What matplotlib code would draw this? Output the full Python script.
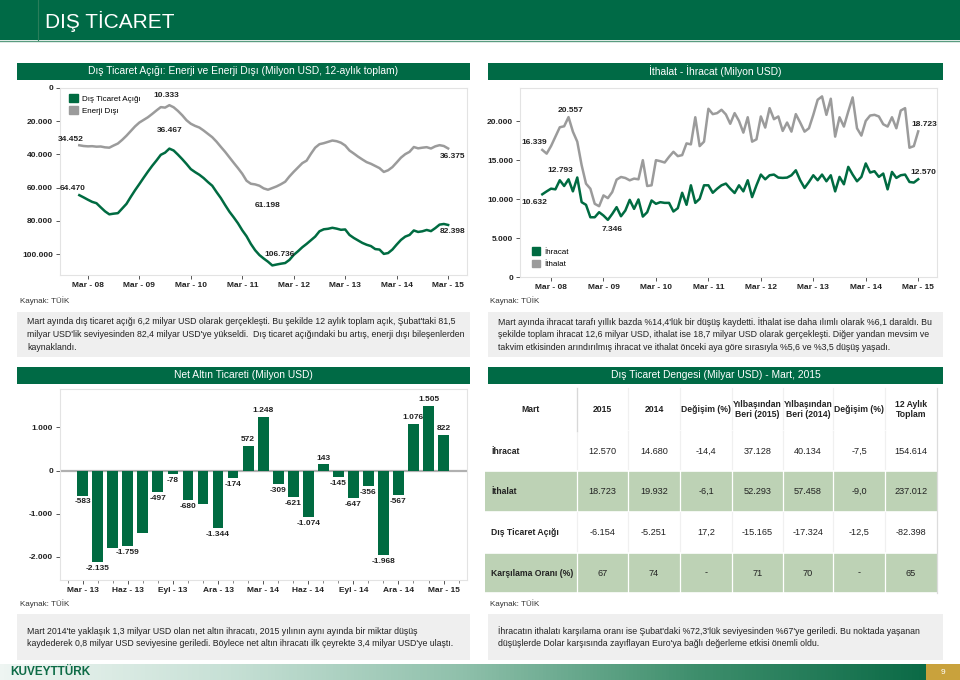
import numpy as np
import matplotlib.pyplot as plt
from matplotlib.patches import Rectangle
from matplotlib.colors import LinearSegmentedColormap
from matplotlib import font_manager

W, H = 960, 680
GREEN = '#006b41'
BAR_GREEN = '#006a45'
LINE_GRAY = '#9b9b9b'
TXT = '#222222'

names = {f.name for f in font_manager.fontManager.ttflist}
NARROW = 'Liberation Sans Narrow' in names
plt.rcParams['font.family'] = ['Liberation Sans', 'DejaVu Sans']

# ---- data ----
year_ticks = ['Mar - 08', 'Mar - 09', 'Mar - 10', 'Mar - 11', 'Mar - 12', 'Mar - 13', 'Mar - 14', 'Mar - 15']

# 12-month total, Jan 08 .. Mar 15 (million USD, deficit shown positive)
acik = [64470, 65800, 67200, 68500, 69300, 71800, 74200, 76000, 75600, 75300,
        72500, 69700, 65500, 61500, 57800, 54000, 50300, 46800, 43600, 40200,
        38900, 36467, 37600, 40100, 42800, 45700, 48800, 50600, 52200, 54200,
        56600, 58800, 62600, 66200, 70400, 74400, 77800, 81400, 85600, 89200,
        93800, 97600, 100500, 102600, 104500, 106736, 106200, 105700, 105300, 103400,
        100400, 98200, 95800, 93800, 91600, 89400, 86200, 85000, 84700, 84100,
        84600, 85300, 85100, 88400, 90200, 91700, 93200, 94300, 95100, 96900,
        97200, 99800, 99300, 97200, 94200, 91400, 89400, 88400, 85700, 86600,
        86200, 85400, 86100, 84300, 82200, 81800, 82398]
enerji_disi = [34452, 34900, 35100, 35000, 35300, 35200, 35700, 35900, 34600, 33400,
               31200, 28700, 25900, 23100, 20800, 19200, 17600, 15600, 13500, 11500,
               11800, 10333, 11600, 13800, 16400, 19400, 21500, 22800, 23800, 25600,
               27600, 29600, 32300, 35400, 38400, 41700, 45000, 48200, 51600, 55800,
               57600, 58000, 58800, 60400, 61198, 60200, 59200, 57900, 56400, 53200,
               50400, 47800, 45200, 43700, 39600, 35900, 33800, 33200, 32400, 31600,
               32000, 32900, 34600, 37600, 39400, 41300, 43000, 44600, 45600, 46900,
               48200, 50500, 49500, 47600, 44800, 41900, 39800, 38400, 35500, 36300,
               35900, 35600, 36400, 35100, 34400, 34900, 36375]

# monthly, Jan 08 .. Mar 15 (million USD)
ihracat = [10632, 11010, 11360, 11270, 12440, 11700, 12560, 11010, 12793, 9620,
           9280, 7680, 7680, 8330, 7900, 7346, 8110, 8980, 7810, 8550,
           9920, 8760, 9970, 7770, 8330, 9840, 9410, 9620, 9530, 9530,
           8420, 8850, 10830, 9280, 11790, 9530, 10050, 11790, 11790, 10830,
           11350, 11790, 12010, 11360, 10800, 11790, 11010, 12440, 10270, 11790,
           13170, 12560, 13080, 13170, 12780, 12740, 12780, 13080, 13720, 12440,
           11450, 12220, 13080, 12440, 13170, 12310, 13080, 11010, 12870, 11920,
           14160, 13170, 12310, 12870, 14600, 13430, 13600, 12870, 13300, 11270,
           13510, 12740, 13080, 13170, 12220, 12140, 12570]
ithalat = [16339, 15860, 16830, 18040, 19250, 19380, 20557, 18690, 17400, 14380,
           12000, 11350, 9410, 9100, 10490, 10140, 10920, 12520, 12860, 12730,
           12430, 12650, 12560, 15020, 11700, 11790, 15020, 14890, 14720, 15450,
           16100, 15540, 15670, 17180, 17050, 20540, 16830, 17400, 21630, 20940,
           21070, 21500, 20900, 19700, 21070, 20070, 18560, 20540, 17400, 17700,
           20640, 19210, 21710, 20290, 20640, 18780, 19860, 18690, 20940, 19860,
           18690, 19120, 20850, 22790, 23220, 20850, 22920, 18050, 20540, 19340,
           21280, 23090, 19120, 18180, 20070, 20760, 20850, 20640, 19640, 19340,
           20540, 19120, 21400, 21710, 16620, 16830, 18723]

# net gold trade, Mar 13 .. Mar 15
altin = [-583, -2135, -1800, -1759, -1440, -497, -78, -680, -775, -1344, -174, 572, 1248,
         -309, -621, -1074, 143, -145, -647, -356, -1968, -567, 1076, 1505, 822]
altin_label = [1, 1, 0, 1, 0, 1, 1, 1, 0, 1, 1, 1, 1, 1, 1, 1, 1, 1, 1, 1, 1, 1, 1, 1, 1]
altin_ticks = ['Mar - 13', 'Haz - 13', 'Eyl - 13', 'Ara - 13', 'Mar - 14',
               'Haz - 14', 'Eyl - 14', 'Ara - 14', 'Mar - 15']

tbl_cols = ['Mart', '2015', '2014', 'Değişim (%)', 'Yılbaşından\nBeri (2015)',
            'Yılbaşından\nBeri (2014)', 'Değişim (%)', '12 Aylık\nToplam']
tbl_rows = ['İhracat', 'İthalat', 'Dış Ticaret Açığı', 'Karşılama Oranı (%)']
tbl_vals = [['12.570', '14.680', '-14,4', '37.128', '40.134', '-7,5', '154.614'],
            ['18.723', '19.932', '-6,1', '52.293', '57.458', '-9,0', '237.012'],
            ['-6.154', '-5.251', '17,2', '-15.165', '-17.324', '-12,5', '-82.398'],
            ['67', '74', '-', '71', '70', '-', '65']]

txt_tl = ["Mart ayında dış ticaret açığı 6,2 milyar USD olarak gerçekleşti. Bu şekilde 12 aylık toplam açık, Şubat'taki 81,5",
          "milyar USD'lik seviyesinden 82,4 milyar USD'ye yükseldi.  Dış ticaret açığındaki bu artış, enerji dışı bileşenlerden",
          "kaynaklandı."]
txt_tr = ["Mart ayında ihracat tarafı yıllık bazda %14,4'lük bir düşüş kaydetti. İthalat ise daha ılımlı olarak %6,1 daraldı. Bu",
          "şekilde toplam ihracat 12,6 milyar USD, ithalat ise 18,7 milyar USD olarak gerçekleşti. Diğer yandan mevsim ve",
          "takvim etkisinden arındırılmış ihracat ve ithalat önceki aya göre sırasıyla %5,6 ve %3,5 düşüş yaşadı."]
txt_bl = ["Mart 2014'te yaklaşık 1,3 milyar USD olan net altın ihracatı, 2015 yılının aynı ayında bir miktar düşüş",
          "kaydederek 0,8 milyar USD seviyesine geriledi. Böylece net altın ihracatı ilk çeyrekte 3,4 milyar USD'ye ulaştı."]
txt_br = ["İhracatın ithalatı karşılama oranı ise Şubat'daki %72,3'lük seviyesinden %67'ye geriledi. Bu noktada yaşanan",
          "düşüşlerde Dolar karşısında zayıflayan Euro'ya bağlı değerleme etkisi önemli oldu."]


def tr(v):
    return f"{v:,.0f}".replace(',', '.')


def px(x0, y0, x1, y1):
    return [x0 / W, 1 - y1 / H, (x1 - x0) / W, (y1 - y0) / H]


if NARROW:
    para_font = dict(family=['Liberation Sans Narrow', 'Liberation Sans'], fontsize=7.4)
    head_font = dict(family=['Liberation Sans Narrow', 'Liberation Sans'], fontsize=18)
    bar_font = dict(family=['Liberation Sans Narrow', 'Liberation Sans'], fontsize=8.6)
else:
    para_font = dict(fontsize=6.35)
    head_font = dict(fontsize=15)
    bar_font = dict(fontsize=7.4)

fig = plt.figure(figsize=(9.6, 6.8), dpi=100)
bg = fig.add_axes([0, 0, 1, 1])
bg.set_xlim(0, W)
bg.set_ylim(H, 0)
bg.axis('off')

# header
bg.add_patch(Rectangle((0, 0), W, 40, color='#006a46', lw=0))
bg.plot([38, 38], [0, 40], color='#2a7d5a', lw=0.8)
bg.plot([0, W], [40.5, 40.5], color='#5a9c80', lw=1)
bg.text(45, 21, 'DIŞ TİCARET', color='white', va='center', ha='left', **head_font)

# section title bars
for (x0, x1, y0, title) in [(17, 470, 63, 'Dış Ticaret Açığı: Enerji ve Enerji Dışı (Milyon USD, 12-aylık toplam)'),
                            (488, 943, 63, 'İthalat - İhracat (Milyon USD)'),
                            (17, 470, 367, 'Net Altın Ticareti (Milyon USD)'),
                            (488, 943, 367, 'Dış Ticaret Dengesi (Milyar USD) - Mart, 2015')]:
    bg.add_patch(Rectangle((x0, y0), x1 - x0, 17, color=BAR_GREEN, lw=0))
    bg.text((x0 + x1) / 2, y0 + 8.5, title, color='white', ha='center', va='center', **bar_font)

# text boxes
for (x0, x1, y0, y1, lines, ly) in [(17, 470, 312, 357, txt_tl, 322),
                                    (488, 943, 312, 357, txt_tr, 322),
                                    (17, 470, 614, 660, txt_bl, 631),
                                    (488, 943, 614, 660, txt_br, 631)]:
    bg.add_patch(Rectangle((x0, y0), x1 - x0, y1 - y0, color='#efefef', lw=0))
    for k, s in enumerate(lines):
        bg.text(x0 + 10, ly + k * 12.5, s, color=TXT, ha='left', va='center', **para_font)

for (x, y) in [(20, 301), (490, 301), (20, 604), (490, 604)]:
    bg.text(x, y, 'Kaynak: TÜİK', fontsize=5.8, color='#333333', ha='left', va='center')

# footer
cmap = LinearSegmentedColormap.from_list('f', ['#eef5f2', '#c6e0d5', '#8fc0ab', '#3f8f6d', '#0b6a46'])
bg.imshow(np.linspace(0, 1, 256)[None, :], cmap=cmap, extent=(0, 926, 680, 664), aspect='auto', zorder=0)
bg.add_patch(Rectangle((926, 664), 34, 16, color='#c9a23c', lw=0))
bg.text(943, 672, '9', color='white', fontsize=6, ha='center', va='center')
bg.text(10, 672, 'KUVEYTTÜRK', color='#0d6b46', fontsize=8.5, fontweight='bold', ha='left', va='center')
bg.set_xlim(0, W)
bg.set_ylim(H, 0)


def style_axes(ax):
    for sp in ax.spines.values():
        sp.set_color('#e3e3e3')
        sp.set_linewidth(0.8)
    ax.tick_params(axis='both', length=3, width=0.7, color='#555555', labelsize=6, labelcolor='#222222', pad=2)
    for lab in ax.get_xticklabels() + ax.get_yticklabels():
        lab.set_fontweight('bold')


def label(ax, i, series, dx, dy):
    ax.annotate(tr(series[i]), (i, series[i]), xytext=(dx, dy), textcoords='offset points',
                ha='center', va='center', fontsize=6, fontweight='bold', color='#222222')


# ---- top-left: deficit lines ----
ax1 = fig.add_axes(px(60, 88, 467, 275))
x = np.arange(len(acik))
ax1.plot(x, enerji_disi, color=LINE_GRAY, lw=1.8, label='Enerji Dışı')
ax1.plot(x, acik, color=GREEN, lw=1.8, label='Dış Ticaret Açığı')
ax1.set_xlim(-4.5, 90.4)
ax1.set_ylim(112500, 0)
ax1.set_yticks([0, 20000, 40000, 60000, 80000, 100000])
ax1.set_yticklabels([tr(v) for v in [0, 20000, 40000, 60000, 80000, 100000]])
ax1.set_xticks(np.arange(2, 87, 12))
ax1.set_xticklabels(year_ticks)
style_axes(ax1)
h = [Rectangle((0, 0), 1, 1, color=GREEN), Rectangle((0, 0), 1, 1, color=LINE_GRAY)]
ax1.legend(h, ['Dış Ticaret Açığı', 'Enerji Dışı'], loc='upper left', bbox_to_anchor=(0.015, 0.985),
           frameon=False, fontsize=5.8, handlelength=1.1, handleheight=1.1, labelspacing=0.45,
           borderaxespad=0, handletextpad=0.5)
label(ax1, 0, enerji_disi, -6, 4.5)
label(ax1, 0, acik, -5, 4.5)
label(ax1, 21, enerji_disi, -2, 7)
label(ax1, 21, acik, 0, 13)
label(ax1, 44, enerji_disi, 0, -11)
label(ax1, 45, acik, 5, 8)
label(ax1, 86, enerji_disi, 3, -6)
label(ax1, 86, acik, 3, -5)

# ---- top-right: exports / imports ----
ax2 = fig.add_axes(px(520, 88, 937, 277))
ax2.plot(x, ithalat, color=LINE_GRAY, lw=1.8)
ax2.plot(x, ihracat, color=GREEN, lw=1.8)
ax2.set_xlim(-5.1, 90.3)
ax2.set_ylim(0, 24300)
ax2.set_yticks([0, 5000, 10000, 15000, 20000])
ax2.set_yticklabels([tr(v) for v in [0, 5000, 10000, 15000, 20000]])
ax2.set_xticks(np.arange(2, 87, 12))
ax2.set_xticklabels(year_ticks)
style_axes(ax2)
ax2.legend(h, ['İhracat', 'İthalat'], loc='lower left', bbox_to_anchor=(0.02, 0.03),
           frameon=False, fontsize=5.8, handlelength=1.1, handleheight=1.1, labelspacing=0.45,
           borderaxespad=0, handletextpad=0.5)
label(ax2, 0, ithalat, -6, 5)
label(ax2, 6, ithalat, 1.5, 5)
label(ax2, 8, ihracat, -12, 5)
label(ax2, 0, ihracat, -6, -6)
label(ax2, 15, ihracat, 3, -7)
label(ax2, 86, ithalat, 4.5, 5)
label(ax2, 86, ihracat, 4, 5)

# ---- bottom-left: net gold ----
ax3 = fig.add_axes(px(60, 389, 467, 580))
xb = np.arange(len(altin))
ax3.bar(xb, altin, width=0.72, color=GREEN, zorder=2)
ax3.axhline(0, color='#b0b0b0', lw=1.6, zorder=1)
ax3.set_xlim(-1.51, 25.56)
ax3.set_ylim(-2542, 1893)
ax3.set_yticks([-2000, -1000, 0, 1000])
ax3.set_yticklabels([tr(v) for v in [-2000, -1000, 0, 1000]])
ax3.set_xticks(np.arange(0, 25, 3))
ax3.set_xticklabels(altin_ticks)
ax3.set_xticks(np.arange(-1, 26), minor=True)
ax3.tick_params(axis='x', which='minor', length=2, width=0.6, color='#777777')
style_axes(ax3)
for i, v in enumerate(altin):
    if altin_label[i]:
        ax3.annotate(tr(v), (i, v), xytext=(0, 2 if v > 0 else -2), textcoords='offset points',
                     ha='center', va='bottom' if v > 0 else 'top', fontsize=6, fontweight='bold',
                     color='#222222')

# ---- bottom-right: table ----
col_edges = [485, 577, 628, 680, 732, 783, 833, 885, 937]
row_edges = [388, 431, 471, 512, 553, 593]
row_fill = ['white', 'white', '#bdd2b5', 'white', '#bdd2b5']
for r in range(5):
    y0, y1 = row_edges[r], row_edges[r + 1]
    bg.add_patch(Rectangle((col_edges[0], y0), col_edges[-1] - col_edges[0], y1 - y0,
                           facecolor=row_fill[r], edgecolor='none'))
    sep = 'white' if row_fill[r] != 'white' else '#f0f0f0'
    for c in range(1, len(col_edges) - 1):
        bg.plot([col_edges[c], col_edges[c]], [y0, y1], color=sep, lw=0.9)
    yc = (y0 + y1) / 2
    if r == 0:
        for c, s in enumerate(tbl_cols):
            bg.text((col_edges[c] + col_edges[c + 1]) / 2, yc, s, ha='center', va='center',
                    fontsize=6.2, fontweight='bold', color='#222222', linespacing=1.15)
    else:
        bg.text(col_edges[0] + 6, yc, tbl_rows[r - 1], ha='left', va='center', fontsize=6.2,
                fontweight='bold', color='#222222')
        for c, s in enumerate(tbl_vals[r - 1]):
            bg.text((col_edges[c + 1] + col_edges[c + 2]) / 2, yc, s, ha='center', va='center',
                    fontsize=6.6, color='#222222')
    bg.plot([col_edges[0], col_edges[-1]], [y1, y1], color='white', lw=1.2)
bg.plot([577, 577], [388, 431], color='#d8d8d8', lw=0.9)
bg.plot([937, 937], [388, 593], color='#dcdcdc', lw=0.9)

fig.savefig('out.png', dpi=100)
